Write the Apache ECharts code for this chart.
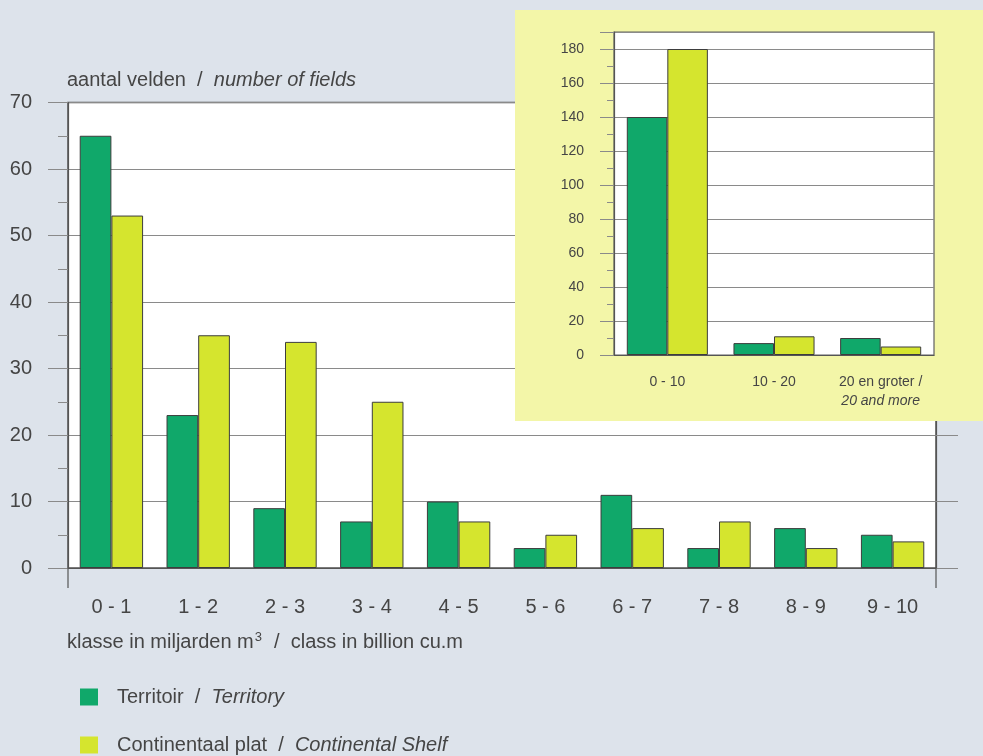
<!DOCTYPE html>
<html><head><meta charset="utf-8">
<script src="https://cdn.jsdelivr.net/npm/echarts@6/dist/echarts.min.js"></script>
<style>html,body{margin:0;padding:0;background:#dde3eb}#c{width:983px;height:756px}</style>
</head><body><div id="c"></div>
<script>
const categories = ['0 - 1','1 - 2','2 - 3','3 - 4','4 - 5','5 - 6','6 - 7','7 - 8','8 - 9','9 - 10'];
const territory = [65, 23, 9, 7, 10, 3, 11, 3, 6, 5];
const shelf = [53, 35, 34, 25, 7, 5, 6, 7, 3, 4];
const insetCategories = ['0 - 10', '10 - 20', '20 en groter / 20 and more'];
const insetTerritory = [140, 7, 10];
const insetShelf = [180, 11, 5];
const seriesNames = ['Territoir / Territory', 'Continentaal plat / Continental Shelf'];
const yTitle = ['aantal velden', 'number of fields'];
const xTitle = ['klasse in miljarden m', '3', 'class in billion cu.m'];

const FONT = 'Liberation Sans';
const TXT = '#454545';
const C1 = '#10a86a', C2 = '#d5e52e';
const GRIDC = '#8a8a8a', AXC = '#555';

const chart = echarts.init(document.getElementById('c'), null, {renderer: 'canvas'});
const barStyle = (c) => ({color: c, borderColor: '#3d3d3d', borderWidth: 1});
const rs = (extra) => Object.assign({fontSize: 20, color: TXT, fontFamily: FONT, fontWeight: 'normal'}, extra || {});
const legendOf = (i, top) => ({
  orient: 'vertical', left: 80, top: top, padding: 0,
  itemWidth: 18, itemHeight: 17, icon: 'rect',
  itemStyle: {borderWidth: 0},
  data: [seriesNames[i]],
  formatter: (n) => { const p = n.split(' / '); return `{a|${p[0]}  /  }{b|${p[1]}}`; },
  textStyle: {padding: [0, 0, 0, 14], rich: {a: rs(), b: rs({fontStyle: 'italic'})}}
});

const option = {
  backgroundColor: '#dde3eb',
  animation: false,
  textStyle: {fontFamily: FONT},
  title: [
    {left: 62, top: 65, text: `{a|${yTitle[0]}  /  }{b|${yTitle[1]}}`,
     textStyle: {fontWeight: 'normal', rich: {a: rs(), b: rs({fontStyle: 'italic'})}}},
    {left: 62, top: 626, text: `{a|${xTitle[0]}}{s|${xTitle[1]}}{a|  /  ${xTitle[2]}}`,
     textStyle: {fontWeight: 'normal', rich: {a: rs({verticalAlign: 'bottom'}), s: rs({fontSize: 13, verticalAlign: 'top', padding: [0, 1, 8, 1]})}}}
  ],
  legend: [legendOf(0, 687), legendOf(1, 735)],
  graphic: [
    {type: 'rect', z: 50, shape: {x: 515, y: 10, width: 468, height: 411}, style: {fill: '#f3f6a8'}}
  ],
  grid: [
    {left: 68, top: 102.5, right: 47, bottom: 188, show: true, backgroundColor: '#fff', borderColor: '#505050', borderWidth: 1.5, z: 0},
    {left: 614, top: 32, right: 49, bottom: 401, show: true, backgroundColor: '#fff', borderColor: '#606060', borderWidth: 1.2, z: 60}
  ],
  xAxis: [
    {type: 'category', gridIndex: 0, data: categories,
     axisLine: {lineStyle: {color: AXC, width: 1.2}},
     axisTick: {length: 13, lineStyle: {color: AXC}},
     axisLabel: {fontSize: 20, color: TXT, margin: 29, fontFamily: FONT, interval: 0}},
    {type: 'category', gridIndex: 1, data: insetCategories, z: 61,
     axisLine: {lineStyle: {color: AXC, width: 1.2}},
     axisTick: {length: 10, lineStyle: {color: AXC}},
     axisLabel: {fontSize: 14, color: TXT, margin: 18, fontFamily: FONT, lineHeight: 19, interval: 0, hideOverlap: false,
       formatter: (v) => v.includes(' / ') ? v.replace(' / ', ' /\n{i|') + '}' : v,
       rich: {i: {fontSize: 14, color: TXT, fontStyle: 'italic', fontFamily: FONT, lineHeight: 19}}}}
  ],
  yAxis: [
    {type: 'value', gridIndex: 0, min: 0, max: 70, interval: 10,
     axisLine: {show: true, lineStyle: {color: AXC, width: 1.2}},
     axisTick: {show: true, length: 20, lineStyle: {color: GRIDC}},
     minorTick: {show: true, splitNumber: 2, length: 10, lineStyle: {color: GRIDC}},
     splitLine: {lineStyle: {color: GRIDC, width: 1}},
     axisLabel: {fontSize: 20, color: TXT, margin: 36, fontFamily: FONT}},
    {type: 'value', gridIndex: 0, min: 0, max: 70, interval: 10, position: 'right',
     axisLine: {show: true, lineStyle: {color: AXC, width: 1.2}},
     axisTick: {show: true, length: 22, lineStyle: {color: GRIDC}},
     splitLine: {show: false}, axisLabel: {show: false}},
    {type: 'value', gridIndex: 1, min: 0, max: 190, interval: 20, z: 61,
     axisLine: {show: true, lineStyle: {color: AXC, width: 1.2}},
     axisTick: {show: true, length: 14, lineStyle: {color: GRIDC}},
     minorTick: {show: true, splitNumber: 2, length: 7, lineStyle: {color: GRIDC}},
     splitLine: {lineStyle: {color: GRIDC, width: 1}},
     axisLabel: {fontSize: 14, color: TXT, margin: 30, fontFamily: FONT, formatter: (v) => v % 20 === 0 ? String(v) : ''}}
  ],
  series: [
    {name: seriesNames[0], type: 'bar', xAxisIndex: 0, yAxisIndex: 0, data: territory, barGap: '0%', barCategoryGap: '27%', itemStyle: barStyle(C1), z: 2},
    {name: seriesNames[1], type: 'bar', xAxisIndex: 0, yAxisIndex: 0, data: shelf, barGap: '0%', barCategoryGap: '27%', itemStyle: barStyle(C2), z: 2},
    {name: seriesNames[0], type: 'bar', xAxisIndex: 1, yAxisIndex: 2, data: insetTerritory, barGap: '0%', barCategoryGap: '24%', itemStyle: barStyle(C1), z: 62},
    {name: seriesNames[1], type: 'bar', xAxisIndex: 1, yAxisIndex: 2, data: insetShelf, barGap: '0%', barCategoryGap: '24%', itemStyle: barStyle(C2), z: 62}
  ]
};
chart.setOption(option);

// extended end ticks of the main x axis, positioned from the library's scales
const y0 = chart.convertToPixel({yAxisIndex: 0}, 0);
const xa = chart.convertToPixel({xAxisIndex: 0}, categories[0]);
const xb = chart.convertToPixel({xAxisIndex: 0}, categories[1]);
const xl = chart.convertToPixel({xAxisIndex: 0}, categories[categories.length - 1]);
const half = (xb - xa) / 2;
chart.setOption({graphic: [
  {type: 'rect', z: 50, shape: {x: 515, y: 10, width: 468, height: 411}, style: {fill: '#f3f6a8'}},
  {type: 'line', z: 5, shape: {x1: xa - half, y1: y0, x2: xa - half, y2: y0 + 20}, style: {stroke: AXC, lineWidth: 1.2}},
  {type: 'line', z: 5, shape: {x1: xl + half, y1: y0, x2: xl + half, y2: y0 + 20}, style: {stroke: AXC, lineWidth: 1.2}}
]});
</script>
</body></html>
